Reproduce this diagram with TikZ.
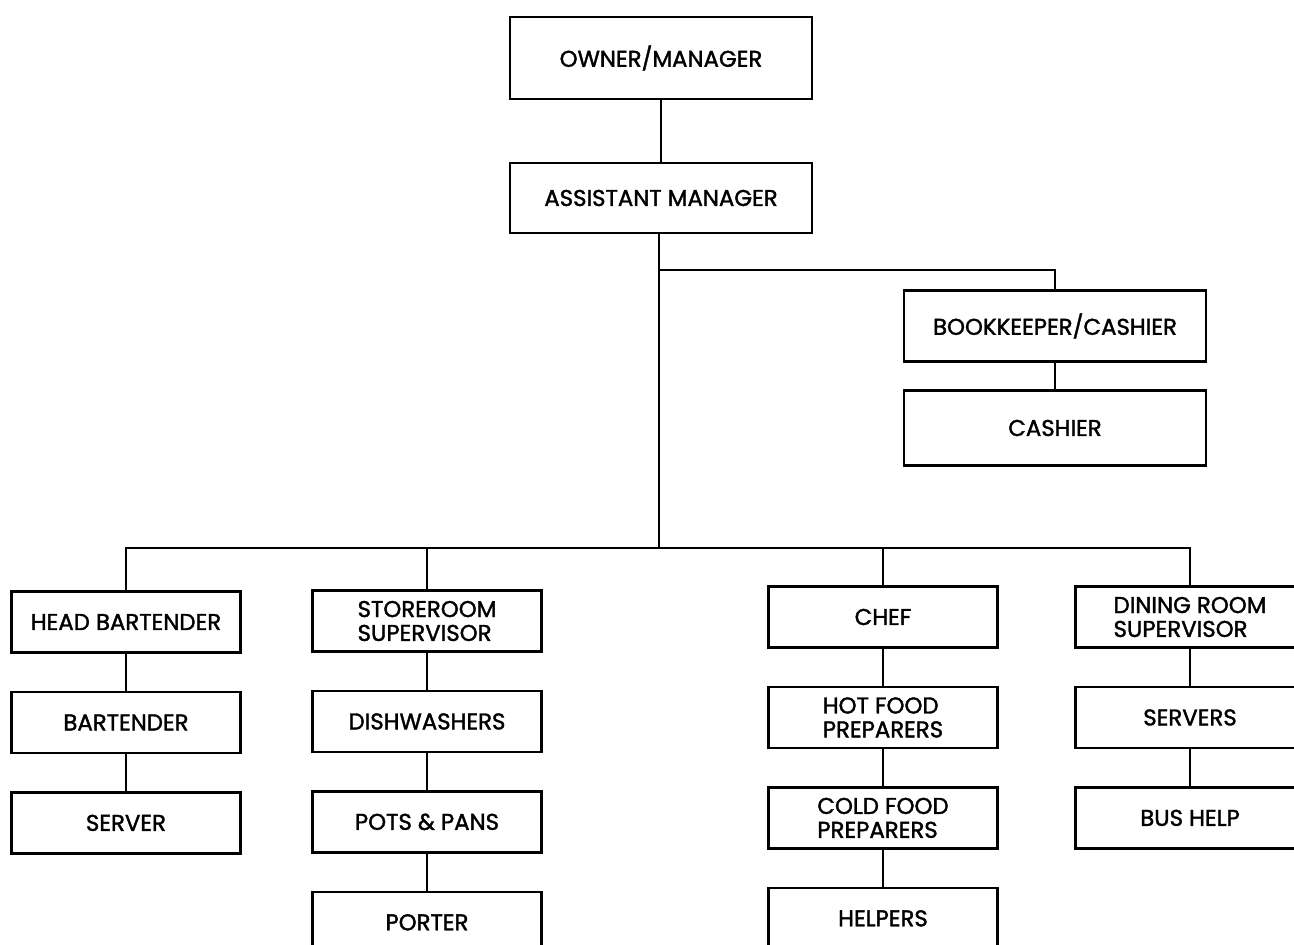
\documentclass[tikz,border=0pt]{standalone}
\usepackage{fontspec}
\setmainfont{Poppins}[FakeBold=1.6]
\usepackage{tikz}
\usetikzlibrary{positioning}

\begin{document}
\begin{tikzpicture}[
    x=0.02cm, y=-0.02cm,
    node distance=0.74cm,
    post/.style={rectangle, draw, line width=1.4pt, inner sep=0pt, align=left,
        font=\fontsize{13}{13.6}\selectfont},
    top/.style={post, minimum width=6.04cm},
    staff/.style={post, minimum width=4.58cm, minimum height=1.22cm},
    link/.style={line width=1.4pt}
]
\useasboundingbox (0,0) rectangle (1294,945);
\clip (0,0) rectangle (1294,945);

% Management
\node[top, minimum height=1.64cm] (owner) at (661,58) {OWNER/MANAGER};
\node[top, minimum height=1.4cm] (asst) at (661,198) {ASSISTANT MANAGER};

% Office
\node[top, minimum height=1.42cm] (book) at (1055,326) {BOOKKEEPER/CASHIER};
\node[top, minimum height=1.5cm] (cash) at (1055,428) {CASHIER};

% Junctions
\coordinate (fork) at (659,270);
\coordinate (split) at (659,548);

% Bar
\node[staff] (headbar) at (126,622) {HEAD BARTENDER};
\node[staff, below=of headbar] (bartender) {BARTENDER};
\node[staff, below=of bartender] (server) {SERVER};

% Storeroom
\node[staff] (store) at (427,621) {STOREROOM\\SUPERVISOR};
\node[staff, below=of store] (dish) {DISHWASHERS};
\node[staff, below=of dish] (pots) {POTS \& PANS};
\node[staff, below=of pots] (porter) {PORTER};

% Kitchen
\node[staff] (chef) at (883,617) {CHEF};
\node[staff, below=of chef] (hotfood) {HOT FOOD\\PREPARERS};
\node[staff, below=of hotfood] (coldfood) {COLD FOOD\\PREPARERS};
\node[staff, below=of coldfood] (helpers) {HELPERS};

% Dining room
\node[staff] (dining) at (1190,617) {DINING ROOM\\SUPERVISOR};
\node[staff, below=of dining] (servers) {SERVERS};
\node[staff, below=of servers] (bushelp) {BUS HELP};

% Lines: management
\draw[link] (owner) -- (asst);
\draw[link] (asst.south -| split) -- (split);
\draw[link] (fork) -| (book);
\draw[link] (book) -- (cash);

% Lines: departments
\draw[link] (split) -| (headbar);
\draw[link] (split) -| (store);
\draw[link] (split) -| (chef);
\draw[link] (split) -| (dining);

% Lines: staff
\draw[link] (headbar) -- (bartender);
\draw[link] (bartender) -- (server);
\draw[link] (store) -- (dish);
\draw[link] (dish) -- (pots);
\draw[link] (pots) -- (porter);
\draw[link] (chef) -- (hotfood);
\draw[link] (hotfood) -- (coldfood);
\draw[link] (coldfood) -- (helpers);
\draw[link] (dining) -- (servers);
\draw[link] (servers) -- (bushelp);

\end{tikzpicture}
\end{document}
